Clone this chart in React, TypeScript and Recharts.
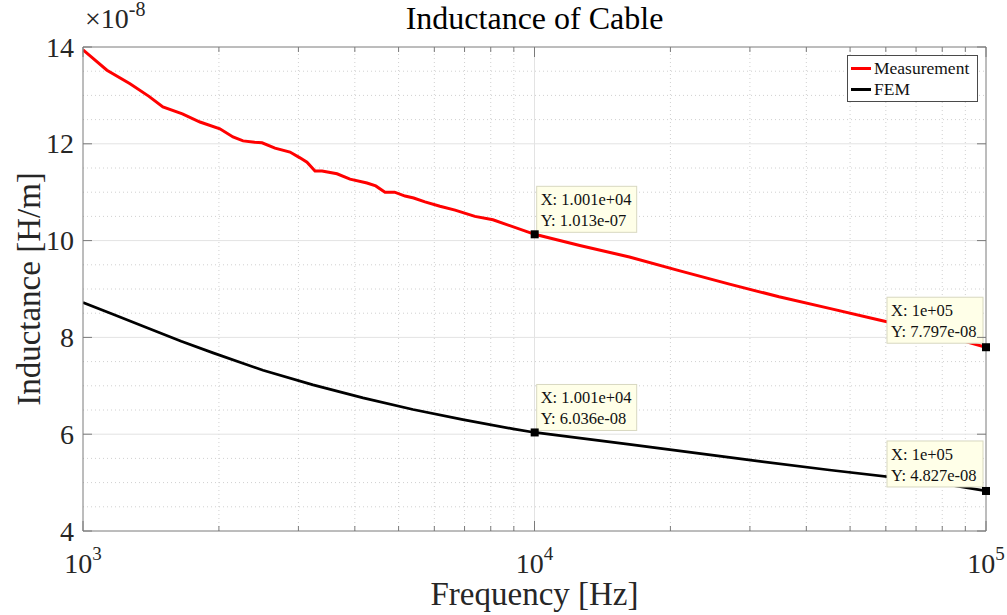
import React from 'react';
import { LineChart, Line, XAxis, YAxis, ReferenceLine, ReferenceDot } from 'recharts';

// measured inductance (x1e-8 H/m) vs frequency (Hz)
const measFreq = [1000, 1130, 1271, 1400, 1503, 1660, 1816, 2010, 2149, 2262, 2400, 2492, 2662, 2874, 3024, 3134, 3265, 3384, 3652, 3903, 4256, 4450, 4666, 4900, 5168, 5400, 5720, 6175, 6670, 7380, 8090, 10010, 12600, 16230, 20900, 27030, 34800, 45000, 58000, 75200, 100000];
const measInd = [13.94, 13.52, 13.24, 12.98, 12.76, 12.62, 12.45, 12.31, 12.14, 12.06, 12.03, 12.02, 11.91, 11.83, 11.71, 11.62, 11.44, 11.44, 11.38, 11.27, 11.19, 11.13, 11.0, 11.0, 10.92, 10.88, 10.8, 10.71, 10.63, 10.5, 10.43, 10.13, 9.9, 9.66, 9.38, 9.1, 8.84, 8.6, 8.36, 8.12, 7.797];

// FEM result
const femFreq = [1000, 1165, 1386, 1650, 1941, 2504, 3232, 4171, 5382, 6944, 8963, 10010, 16230, 27030, 45000, 75200, 100000];
const femInd = [8.72, 8.48, 8.2, 7.92, 7.68, 7.32, 7.02, 6.75, 6.51, 6.3, 6.11, 6.036, 5.79, 5.52, 5.26, 5.02, 4.827];

const xMajor = [1000, 10000, 100000];
const xMinor = [2000, 3000, 4000, 5000, 6000, 7000, 8000, 9000, 20000, 30000, 40000, 50000, 60000, 70000, 80000, 90000];
const yMajor = [4, 6, 8, 10, 12, 14];
const yMinor = [4.5, 5, 5.5, 6.5, 7, 7.5, 8.5, 9, 9.5, 10.5, 11, 11.5, 12.5, 13, 13.5];

const seriesNames = ['Measurement', 'FEM'];
const seriesColors = ['#ff0000', '#000000'];

const tips = [
  { x: 10010, y: 10.13, xs: '1.001e+04', ys: '1.013e-07', side: 'right' },
  { x: 100000, y: 7.797, xs: '1e+05', ys: '7.797e-08', side: 'left' },
  { x: 10010, y: 6.036, xs: '1.001e+04', ys: '6.036e-08', side: 'right' },
  { x: 100000, y: 4.827, xs: '1e+05', ys: '4.827e-08', side: 'left' },
];

const measData = measFreq.map((f, i) => ({ f, v: measInd[i] }));
const femData = femFreq.map((f, i) => ({ f, v: femInd[i] }));

const PLOT_W = 903;
const PLOT_H = 484;
const AXIS = '#7a7a7a';
const TEXT = '#262626';
const FONT = 'Liberation Serif, DejaVu Serif, serif';

const XTick = (props: any) => {
  const { x, y, payload } = props;
  const v = payload.value;
  const major = xMajor.includes(v);
  const len = major ? 10 : 5;
  return (
    <g>
      <line x1={x} x2={x} y1={y} y2={y - len} stroke={AXIS} />
      <line x1={x} x2={x} y1={y - PLOT_H} y2={y - PLOT_H + len} stroke={AXIS} />
      {major && (
        <text x={x} y={y + 42} textAnchor="middle" fill={TEXT} fontSize={28} fontFamily={FONT}>
          10<tspan dy={-13} fontSize={19}>{Math.round(Math.log10(v))}</tspan>
        </text>
      )}
    </g>
  );
};

const YTick = (props: any) => {
  const { x, y, payload } = props;
  return (
    <g>
      <line x1={x} x2={x + 9} y1={y} y2={y} stroke={AXIS} />
      <line x1={x + PLOT_W} x2={x + PLOT_W - 9} y1={y} y2={y} stroke={AXIS} />
      <text x={x - 9} y={y + 9.5} textAnchor="end" fill={TEXT} fontSize={28} fontFamily={FONT}>
        {payload.value}
      </text>
    </g>
  );
};

const TipShape = (tip: any) => (props: any) => {
  const { cx, cy } = props;
  const w = tip.side === 'right' ? 100 : 96;
  const h = 46;
  const bx = tip.side === 'right' ? cx + 2 : cx - 3 - w;
  const by = tip.side === 'right' ? cy - 2 - h : cy - 4 - h;
  return (
    <g>
      <rect x={bx} y={by} width={w} height={h} fill="#ffffe8" stroke="#d8d8c0" />
      <text x={bx + 4} y={by + 19} fontSize={16.5} fill="#111" fontFamily={FONT}>X: {tip.xs}</text>
      <text x={bx + 4} y={by + 40} fontSize={16.5} fill="#111" fontFamily={FONT}>Y: {tip.ys}</text>
      <rect x={cx - 4} y={cy - 4} width={8} height={8} fill="#000" />
    </g>
  );
};

export default function App() {
  return (
    <div style={{ position: 'absolute', left: 0, top: 0, width: 1007, height: 615, background: '#fff', fontFamily: FONT }}>
      <LineChart width={1007} height={615} margin={{ top: 47, right: 21, bottom: 44, left: 13 }} style={{ position: 'absolute', left: 0, top: 0 }}>
        {xMinor.map((v) => (
          <ReferenceLine key={'xm' + v} x={v} stroke="#d0d0d0" strokeDasharray="1 3" />
        ))}
        {yMinor.map((v) => (
          <ReferenceLine key={'ym' + v} y={v} stroke="#d0d0d0" strokeDasharray="1 3" />
        ))}
        {xMajor.slice(1, 2).map((v) => (
          <ReferenceLine key={'xM' + v} x={v} stroke="#e3e3e3" />
        ))}
        {yMajor.slice(1, -1).map((v) => (
          <ReferenceLine key={'yM' + v} y={v} stroke="#e3e3e3" />
        ))}
        <ReferenceLine y={14} stroke={AXIS} />
        <ReferenceLine x={100000} stroke={AXIS} />
        <XAxis
          dataKey="f"
          type="number"
          scale="log"
          domain={[1000, 100000]}
          allowDataOverflow
          ticks={[...xMajor, ...xMinor].sort((a, b) => a - b)}
          interval={0}
          tick={<XTick />}
          tickLine={false}
          tickSize={0}
          tickMargin={0}
          height={40}
          axisLine={{ stroke: AXIS }}
        />
        <YAxis
          type="number"
          domain={[4, 14]}
          allowDataOverflow
          ticks={yMajor}
          interval={0}
          tick={<YTick />}
          tickLine={false}
          tickSize={0}
          tickMargin={0}
          width={70}
          axisLine={{ stroke: AXIS }}
        />
        <Line data={measData} dataKey="v" name={seriesNames[0]} stroke={seriesColors[0]} strokeWidth={3} dot={false} isAnimationActive={false} />
        <Line data={femData} dataKey="v" name={seriesNames[1]} stroke={seriesColors[1]} strokeWidth={2.7} dot={false} isAnimationActive={false} />
        {tips.map((t, i) => (
          <ReferenceDot key={i} x={t.x} y={t.y} r={4} shape={TipShape(t)} />
        ))}
      </LineChart>

      <div style={{ position: 'absolute', left: 0, width: 1069, top: 0, textAlign: 'center', fontSize: 32, color: '#000' }}>
        Inductance of Cable
      </div>
      <div style={{ position: 'absolute', left: 85, top: 0, fontSize: 28, color: TEXT }}>
        ×10<sup style={{ fontSize: 20, position: 'relative', top: -2 }}>-8</sup>
      </div>
      <div
        style={{
          position: 'absolute',
          left: 29,
          top: 289,
          transform: 'translate(-50%, -50%) rotate(-90deg)',
          whiteSpace: 'nowrap',
          fontSize: 33,
          color: TEXT,
        }}
      >
        Inductance [H/m]
      </div>
      <div style={{ position: 'absolute', left: 0, width: 1069, top: 576, textAlign: 'center', fontSize: 33, color: TEXT, lineHeight: '36px' }}>
        Frequency [Hz]
      </div>
      <div
        style={{
          position: 'absolute',
          left: 847,
          top: 55,
          width: 129,
          height: 45,
          border: '1px solid #4a4a4a',
          background: '#fff',
          fontSize: 17.5,
          color: '#111',
        }}
      >
        {seriesNames.map((n, i) => (
          <div key={n} style={{ display: 'flex', alignItems: 'center', height: 21, marginTop: i === 0 ? 2 : 0 }}>
            <span style={{ display: 'inline-block', width: 20, height: 3, background: seriesColors[i], marginLeft: 3, marginRight: 3 }} />
            <span>{n}</span>
          </div>
        ))}
      </div>
    </div>
  );
}
